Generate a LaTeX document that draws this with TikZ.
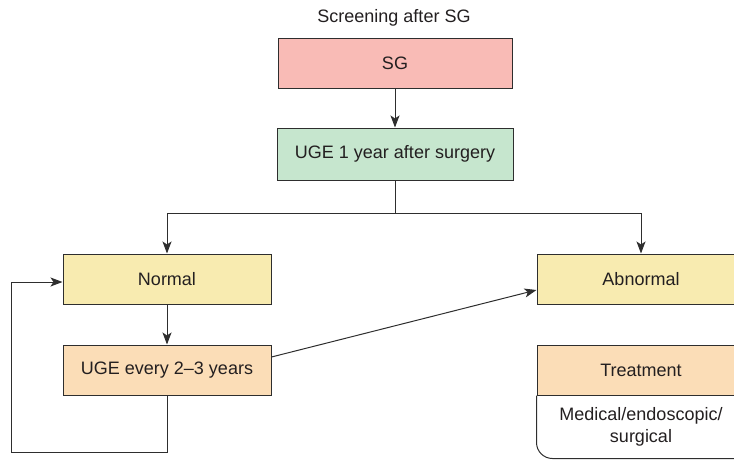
\documentclass[tikz,border=0pt]{standalone}
\usepackage{fontspec}
\setmainfont{Liberation Sans}
\usetikzlibrary{positioning,arrows.meta}
\definecolor{boxpink}{HTML}{F9BBB6}
\definecolor{boxgreen}{HTML}{C6E6CE}
\definecolor{boxyellow}{HTML}{F8EBB0}
\definecolor{boxorange}{HTML}{FBDDB7}
\definecolor{linegray}{HTML}{2E2E2E}
\definecolor{textgray}{HTML}{231F20}
\tikzset{box/.style={draw=linegray,line width=1pt,minimum height=50pt,inner sep=0pt,
    font=\fontsize{18}{22}\selectfont,text=textgray},
  plain/.style={font=\fontsize{18}{22}\selectfont,text=textgray,inner sep=0pt},
  conn/.style={draw=linegray,line width=1pt},
  arr/.style={conn,-{Stealth[length=12pt,width=9pt,inset=3pt]}}}
\begin{document}
\begin{tikzpicture}[x=1pt,y=-1pt]
\useasboundingbox (0,0) rectangle (734,459);
% boxes
\node[plain] (title) at (394,18) {Screening after SG};
\node[box,fill=boxpink,minimum width=234pt] (sg) at (395,63.5) {SG};
\node[box,fill=boxgreen,minimum width=236pt,minimum height=52pt] (uge) at (395,154) {UGE 1 year after surgery};
\node[box,fill=boxyellow,minimum width=208pt] (normal) at (167,279) {Normal};
\node[box,fill=boxorange,minimum width=208pt] (every) at (167,370) {UGE every 2--3 years};
\node[box,fill=boxyellow,minimum width=208pt] (abnormal) at (641,279) {Abnormal};
\node[box,fill=boxorange,minimum width=208pt] (treat) at (641,370) {Treatment};
\node[plain,align=center] (detail) at (641,427) {Medical/endoscopic/\\surgical};
\draw[conn,rounded corners=16pt] (treat.south west) -- ++(0,63) -- ++(250,0);
% connectors
\draw[arr] (sg) -- (uge);
\draw[conn] (uge.south) -- ++(0,33) coordinate (split);
\draw[arr] (split) -| (normal.north);
\draw[arr] (split) -| (abnormal.north);
\draw[arr] (normal) -- (every);
\draw[arr] (every.south) -- ++(0,57) -| ([xshift=-51pt,yshift=-3pt]normal.west) -- ([yshift=-3pt]normal.west);
\draw[arr] ([yshift=13pt]every.east) -- ([yshift=-11pt]abnormal.west);
\end{tikzpicture}
\end{document}
